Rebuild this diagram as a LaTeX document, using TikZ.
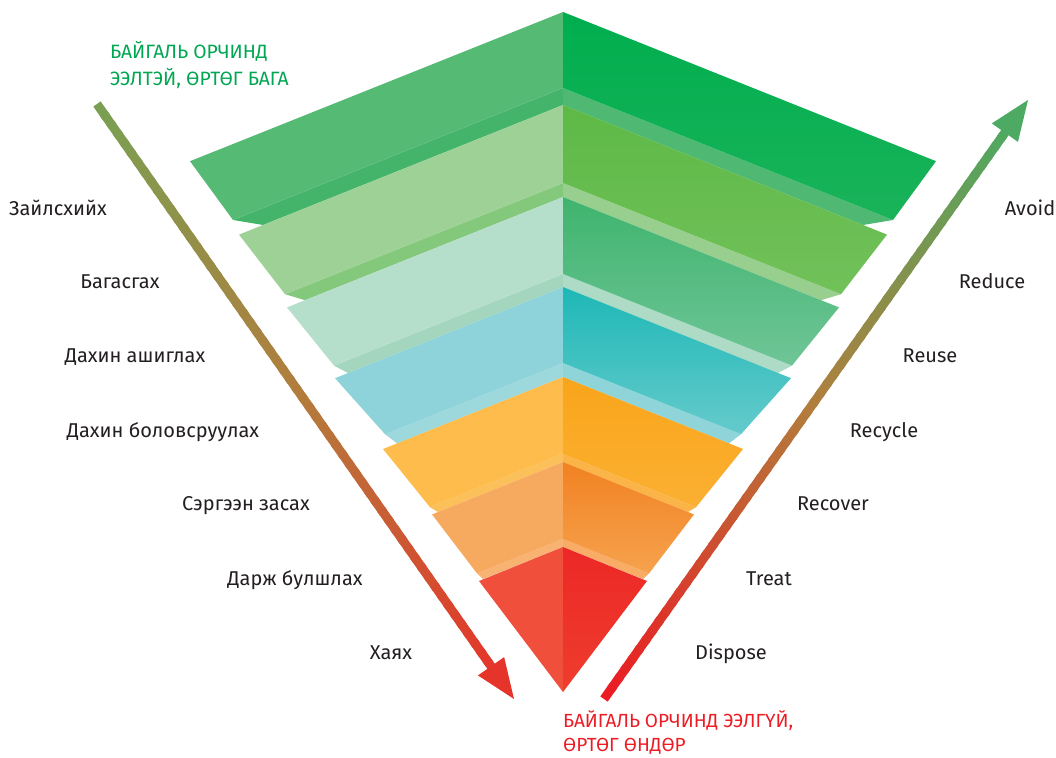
\documentclass[tikz,border=0pt]{standalone}
\usepackage{fontspec}
\setmainfont{Fira Sans}
\usetikzlibrary{calc}
\definecolor{txt}{HTML}{231F20}
\definecolor{ttlgreen}{HTML}{00A651}
\definecolor{ttlred}{HTML}{ED1C24}
% layer colours: l = left face, rt/rb = right face top/bottom, bl/br = ledge band
\definecolor{L1l}{HTML}{55BA74}\definecolor{L1rt}{HTML}{00AE4E}\definecolor{L1rb}{HTML}{1AB35A}\definecolor{L1bl}{HTML}{45B46B}\definecolor{L1br}{HTML}{4FB872}
\definecolor{L2l}{HTML}{9DD196}\definecolor{L2rt}{HTML}{5DB946}\definecolor{L2rb}{HTML}{72C15A}\definecolor{L2bl}{HTML}{84C87C}\definecolor{L2br}{HTML}{98CF8E}
\definecolor{L3l}{HTML}{B5DECB}\definecolor{L3rt}{HTML}{3FB46E}\definecolor{L3rb}{HTML}{6FC597}\definecolor{L3bl}{HTML}{A3D6BD}\definecolor{L3br}{HTML}{ADDBC5}
\definecolor{L4l}{HTML}{8DD3D9}\definecolor{L4rt}{HTML}{1DB8B6}\definecolor{L4rb}{HTML}{65CACC}\definecolor{L4bl}{HTML}{9DD8DC}\definecolor{L4br}{HTML}{8FD4D8}
\definecolor{L5l}{HTML}{FDBC4C}\definecolor{L5rt}{HTML}{F9A51B}\definecolor{L5rb}{HTML}{FBB032}\definecolor{L5bl}{HTML}{FCC05A}\definecolor{L5br}{HTML}{FBB447}
\definecolor{L6l}{HTML}{F6AA60}\definecolor{L6rt}{HTML}{F18222}\definecolor{L6rb}{HTML}{F6A24E}\definecolor{L6bl}{HTML}{F8B272}\definecolor{L6br}{HTML}{F8AC66}
\definecolor{L7l}{HTML}{EF4F3B}\definecolor{L7rt}{HTML}{EC2826}\definecolor{L7rb}{HTML}{EE3D2E}
\definecolor{arrgreenA}{HTML}{7A9F52}
\definecolor{arrgreenB}{HTML}{4CAA62}
\definecolor{arrbrown}{HTML}{B27D3C}
\definecolor{arrred}{HTML}{E5352A}
\definecolor{arrredB}{HTML}{EB1C24}

% #1 idx, #2 top-left x, #3 top centre y, #4 bottom-left x, #5 face bottom centre y, #6 next top y, #7 ledge offset
\newcommand\drawslab[7]{%
  \pgfmathsetmacro\tlx{#2}\pgfmathsetmacro\tly{#3+0.4*(563-#2)}%
  \pgfmathsetmacro\trx{1126-#2}%
  \pgfmathsetmacro\blx{#4}\pgfmathsetmacro\bly{#5+0.4*(563-#4)}%
  \pgfmathsetmacro\brx{1126-#4}%
  \pgfmathsetmacro\ex{#4+#7}\pgfmathsetmacro\ey{#6+0.4*(563-#4-#7)}%
  \pgfmathsetmacro\erx{1126-\ex}%
  \fill[L#1bl] (\blx,\bly) -- (563,#5) -- (563,#6) -- (\ex,\ey) -- cycle;
  \fill[L#1br] (\brx,\bly) -- (563,#5) -- (563,#6) -- (\erx,\ey) -- cycle;
  \fill[L#1l] (\tlx,\tly) -- (563,#3) -- (563,#5) -- (\blx,\bly) -- cycle;
  \shade[top color=L#1rt, bottom color=L#1rb] (563,#3) -- (\trx,\tly) -- (\brx,\bly) -- (563,#5) -- cycle;
}

% gradient arrow: #1 start coord, #2 tip coord, #3 start colour, #4 middle colour, #5 end colour
\newcommand\gradarrow[5]{%
  \coordinate (#1s) at ($(#2)!36pt!(#1)$);
  \coordinate (#1h) at ($(#2)!40pt!(#1)$);
  \foreach \i in {0,...,59}{
    \pgfmathsetmacro\ta{\i/60}
    \pgfmathsetmacro\tb{min((\i+1.4)/60,1)}
    \ifnum\i<30 \pgfmathtruncatemacro\p{\i*100/30}\colorlet{segc}{#4!\p!#3}%
    \else \pgfmathtruncatemacro\p{(\i-30)*100/30}\colorlet{segc}{#5!\p!#4}\fi
    \draw[segc, line width=9pt] ($(#1)!\ta!(#1s)$) -- ($(#1)!\tb!(#1s)$);
  }
  \fill[#5] (#2) -- ($(#1h)!16pt!90:(#2)$) -- ($(#1h)!16pt!-90:(#2)$) -- cycle;
}

\tikzset{
  lbl/.style={font=\fontsize{20}{24}\selectfont, text=txt, inner sep=0pt, anchor=base},
  ttl/.style={font=\fontsize{19.3}{27}\selectfont, align=left, inner sep=0pt, anchor=north west},
}

\begin{document}
\begin{tikzpicture}[x=1pt,y=-1pt]
\useasboundingbox (0,0) rectangle (1056,757);

% pyramid layers, top to bottom
\drawslab{1}{190}{12}{233}{88}{105}{30}
\drawslab{2}{239}{105}{285}{183}{197}{20}
\drawslab{3}{287}{197}{334}{274}{287}{14}
\drawslab{4}{335}{287}{385}{363}{377}{12}
\drawslab{5}{383}{377}{430}{454}{462}{8}
\drawslab{6}{432}{462}{477}{539}{547}{6}
% bottom tip
\fill[L7l] (479,581) -- (563,547) -- (563,692) -- cycle;
\shade[top color=L7rt, bottom color=L7rb] (563,547) -- (647,581) -- (563,692) -- cycle;

% arrows
\coordinate (la) at (97,104);
\coordinate (lb) at (514,699);
\gradarrow{la}{lb}{arrgreenA}{arrbrown}{arrred}
\coordinate (ra) at (604,699);
\coordinate (rb) at (1028,100);
\gradarrow{ra}{rb}{arrredB}{arrbrown}{arrgreenB}

% titles
\node[ttl, text=ttlgreen] (tgood) at (110,41) {БАЙГАЛЬ ОРЧИНД\\ЭЭЛТЭЙ, ӨРТӨГ БАГА};
\node[ttl, text=ttlred, font=\fontsize{19}{24}\selectfont] (tbad) at (563,710) {БАЙГАЛЬ ОРЧИНД ЭЭЛГҮЙ,\\ӨРТӨГ ӨНДӨР};

% left labels
\node[lbl] (m1) at (58,215) {Зайлсхийх};
\node[lbl] (m2) at (120,288) {Багасгах};
\node[lbl] (m3) at (135,362) {Дахин ашиглах};
\node[lbl] (m4) at (163,437) {Дахин боловсруулах};
\node[lbl] (m5) at (246,510) {Сэргээн засах};
\node[lbl] (m6) at (295,585) {Дарж булшлах};
\node[lbl] (m7) at (391,659) {Хаях};

% right labels
\node[lbl] (e1) at (1030,215) {Avoid};
\node[lbl] (e2) at (992,288) {Reduce};
\node[lbl] (e3) at (930,362) {Reuse};
\node[lbl] (e4) at (884,437) {Recycle};
\node[lbl] (e5) at (833,510) {Recover};
\node[lbl] (e6) at (769,585) {Treat};
\node[lbl] (e7) at (731,659) {Dispose};
\end{tikzpicture}
\end{document}
